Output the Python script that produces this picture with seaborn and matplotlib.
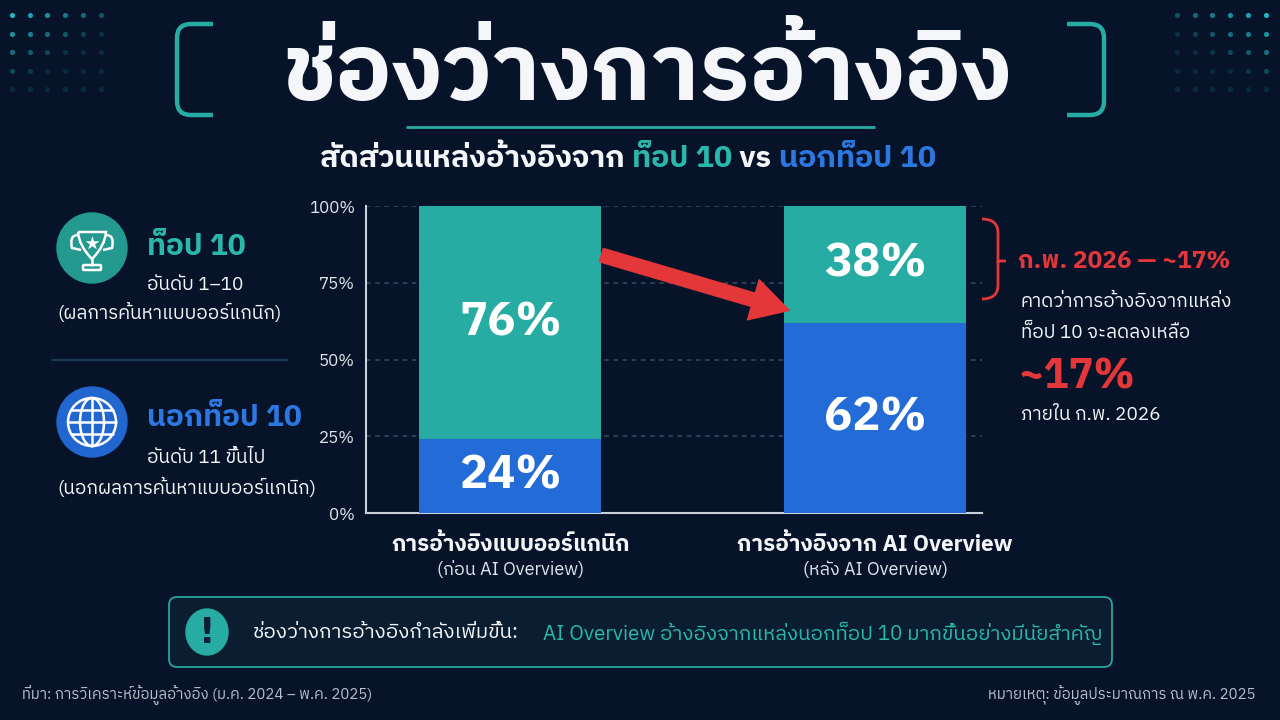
import numpy as np
import pandas as pd
import matplotlib
matplotlib.use("Agg")
import matplotlib.pyplot as plt
import seaborn as sns
from matplotlib import font_manager
from matplotlib.ft2font import FT2Font
from matplotlib.patches import FancyBboxPatch, Circle, Ellipse, PathPatch
from matplotlib.path import Path

# ---------------- data ----------------
categories = ["การอ้างอิงแบบออร์แกนิก", "การอ้างอิงจาก AI Overview"]
category_notes = ["(ก่อน AI Overview)", "(หลัง AI Overview)"]
top10_share = [76, 38]
outside_share = [24, 62]
y_ticks = [0, 25, 50, 75, 100]
y_tick_labels = ["0%", "25%", "50%", "75%", "100%"]
forecast_label = "~17%"

# ---------------- fonts ----------------
sns.set_theme(style="dark")
thai_fams = {}
for f in font_manager.fontManager.ttflist:
    try:
        if 0x0E01 in FT2Font(f.fname).get_charmap():
            thai_fams[f.name] = True
    except Exception:
        pass
def rank(n):
    n2 = n.lower()
    score = 0
    if "thai" in n2: score -= 10
    if "sans" in n2: score -= 5
    if "looped" in n2: score += 3
    if "ui" in n2: score += 1
    return score
thai_list = sorted(thai_fams.keys(), key=rank)
FAM = (thai_list[:1] if thai_list else []) + ["DejaVu Sans"]
plt.rcParams["font.family"] = FAM

BG = "#061329"
TEAL = "#27aca3"
TEAL_T = "#2ab8ad"
BLUE = "#236bd6"
BLUE_T = "#2d78e0"
RED = "#e3373a"
WHITE = "#f4f6f9"
GRAY = "#b9c1cc"

W, H = 1280, 720
fig = plt.figure(figsize=(12.8, 7.2), dpi=100, facecolor=BG)

# overlay in pixel coords
ov = fig.add_axes([0, 0, 1, 1], zorder=0)
ov.set_xlim(0, W)
ov.set_ylim(H, 0)
ov.axis("off")
ov.set_facecolor(BG)

def px_fs(px):
    return px * 0.72

# dot grids
for gx0, bright_right in [(12, False), (1177, True)]:
    for i in range(6):
        for j in range(5):
            x = gx0 + i * 17.7
            y = 15 + j * 18.6
            if bright_right:
                a = max(0.15, 1.0 - 0.22 * j - 0.12 * (5 - i))
            else:
                a = max(0.15, 1.0 - 0.22 * j - 0.12 * i)
            ov.scatter([x], [y], s=14, color="#22b5c2", alpha=a, linewidths=0, zorder=1)

# title brackets
def bracket(x_out, x_in, y0, y1, r, side):
    if side == "left":
        verts = [(x_in, y0), (x_out + r, y0), (x_out, y0), (x_out, y0 + r),
                 (x_out, y1 - r), (x_out, y1), (x_out + r, y1), (x_in, y1)]
    else:
        verts = [(x_in, y0), (x_out - r, y0), (x_out, y0), (x_out, y0 + r),
                 (x_out, y1 - r), (x_out, y1), (x_out - r, y1), (x_in, y1)]
    codes = [Path.MOVETO, Path.LINETO, Path.CURVE3, Path.CURVE3,
             Path.LINETO, Path.CURVE3, Path.CURVE3, Path.LINETO]
    ov.add_patch(PathPatch(Path(verts, codes), fill=False, ec=TEAL, lw=3.2,
                           capstyle="butt", zorder=2))
bracket(177, 213, 24, 115, 14, "left")
bracket(1104, 1067, 24, 115, 14, "right")

# title
ov.text(648, 75, "ช่องว่างการอ้างอิง", color=WHITE, fontsize=px_fs(93),
        fontweight="bold", ha="center", va="center", zorder=3)
ov.plot([406, 875], [127, 127], color=TEAL, lw=2, solid_capstyle="butt")

# subtitle (multi-color)
renderer = fig.canvas.get_renderer()
pieces = [("สัดส่วนแหล่งอ้างอิงจาก ", WHITE), ("ท็อป 10", TEAL_T), (" vs ", WHITE), ("นอกท็อป 10", BLUE_T)]
tmp = []
total_w = 0
for s, c in pieces:
    t = ov.text(0, 159, s, fontsize=px_fs(30.5), fontweight="bold", color=c, va="center", ha="left")
    bb = t.get_window_extent(renderer=renderer)
    tmp.append((t, bb.width))
    total_w += bb.width
x = 628 - total_w / 2
for t, w in tmp:
    t.set_x(x)
    x += w

# left legend
ov.add_patch(Circle((92, 248), 35, color="#23998f", zorder=2))
# trophy icon
cup = Path([(78, 232), (106, 232), (105, 246), (92, 259), (79, 246), (78, 232)],
           [Path.MOVETO, Path.LINETO, Path.CURVE3, Path.CURVE3, Path.CURVE3, Path.CURVE3])
ov.add_patch(PathPatch(cup, fill=False, ec="white", lw=1.8, zorder=3))
for sgn in (-1, 1):
    hx = 92 + sgn * 14
    h = Path([(hx, 235), (hx + sgn * 9, 235), (hx + sgn * 6, 248), (hx - sgn * 3, 250)],
             [Path.MOVETO, Path.CURVE3, Path.CURVE3, Path.LINETO])
    ov.add_patch(PathPatch(h, fill=False, ec="white", lw=1.8, zorder=3))
ov.plot([92, 92], [259, 265], color="white", lw=1.8, zorder=3)
ov.add_patch(FancyBboxPatch((83, 265), 18, 5, boxstyle="round,pad=0,rounding_size=1",
                            fill=False, ec="white", lw=1.8, zorder=3))
ov.scatter([92], [243], marker="*", s=110, color="white", zorder=4, linewidths=0)

ov.text(147, 247, "ท็อป 10", color=TEAL_T, fontsize=px_fs(30), fontweight="bold", va="center", ha="left")
ov.text(147, 285, "อันดับ 1–10", color=WHITE, fontsize=px_fs(19), va="center", ha="left")
ov.text(57, 313, "(ผลการค้นหาแบบออร์แกนิก)", color=WHITE, fontsize=px_fs(19), va="center", ha="left")
ov.plot([52, 287], [360, 360], color="#1d3a57", lw=1.5)

ov.add_patch(Circle((92, 422), 35, color="#2267cf", zorder=2))
# globe icon
ov.add_patch(Circle((92, 422), 24, fill=False, ec="white", lw=1.8, zorder=3))
ov.add_patch(Ellipse((92, 422), 24, 48, fill=False, ec="white", lw=1.8, zorder=3))
ov.plot([92, 92], [398, 446], color="white", lw=1.8, zorder=3)
ov.plot([68, 116], [422, 422], color="white", lw=1.8, zorder=3)
for dy in (-12, 12):
    hw = np.sqrt(24 ** 2 - dy ** 2)
    ov.plot([92 - hw, 92 + hw], [422 + dy, 422 + dy], color="white", lw=1.8, zorder=3)

ov.text(147, 418, "นอกท็อป 10", color=BLUE_T, fontsize=px_fs(30), fontweight="bold", va="center", ha="left")
ov.text(147, 458, "อันดับ 11 ขึ้นไป", color=WHITE, fontsize=px_fs(19), va="center", ha="left")
ov.text(57, 488, "(นอกผลการค้นหาแบบออร์แกนิก)", color=WHITE, fontsize=px_fs(19), va="center", ha="left")

# ---------------- chart ----------------
df = pd.DataFrame({"category": categories, "top10": top10_share, "outside": outside_share})
df["total"] = df["top10"] + df["outside"]

ax = fig.add_axes([366 / W, 1 - 513 / H, (982 - 366) / W, (513 - 206) / H], zorder=2)
ax.set_facecolor("none")
sns.barplot(data=df, x="category", y="total", color=TEAL, width=0.5, saturation=1,
            errorbar=None, ax=ax, zorder=2)
sns.barplot(data=df, x="category", y="outside", color=BLUE, width=0.5, saturation=1,
            errorbar=None, ax=ax, zorder=3)
for p in ax.patches:
    p.set_linewidth(0)
ax.set_xlim(-0.395, 1.293)
ax.set_ylim(0, 100)
ax.set_yticks(y_ticks)
ax.set_yticklabels(y_tick_labels)
ax.set_xticks([0, 1])
ax.set_xticklabels(["", ""])
ax.set_xlabel("")
ax.set_ylabel("")
ax.tick_params(axis="both", length=0, colors="#dfe5ec", labelsize=px_fs(17), pad=8)
ax.yaxis.grid(True, color="#3a4a60", lw=1.1, ls=(0, (3, 3)))
ax.xaxis.grid(False)
ax.set_axisbelow(True)
for s in ["top", "right"]:
    ax.spines[s].set_visible(False)
for s in ["left", "bottom"]:
    ax.spines[s].set_color("#c9d1db")
    ax.spines[s].set_linewidth(1.5)
    ax.spines[s].set_visible(True)

for i in range(len(categories)):
    o = outside_share[i]
    t = top10_share[i]
    ax.text(i, o / 2, f"{o}%", color="white", fontsize=px_fs(47), fontweight="bold",
            ha="center", va="center", zorder=5)
    ax.text(i, o + t / 2, f"{t}%", color="white", fontsize=px_fs(47), fontweight="bold",
            ha="center", va="center", zorder=5)
    ax.text(i, -0.10, categories[i], transform=ax.get_xaxis_transform(), color=WHITE,
            fontsize=px_fs(22.5), fontweight="bold", ha="center", va="center")
    ax.text(i, -0.185, category_notes[i], transform=ax.get_xaxis_transform(), color="#dfe5ec",
            fontsize=px_fs(18), ha="center", va="center")

ax.annotate("", xy=(0.765, 66), xytext=(0.25, 84),
            arrowprops=dict(arrowstyle="simple,head_length=1.35,head_width=1.5,tail_width=0.5",
                            color=RED, shrinkA=0, shrinkB=0, mutation_scale=20),
            annotation_clip=False, zorder=6)

# right annotation
br = Path([(982, 219), (998, 219), (998, 233), (998, 261), (1006, 261), (998, 261),
           (998, 285), (998, 299), (982, 299)],
          [Path.MOVETO, Path.CURVE3, Path.CURVE3, Path.LINETO, Path.LINETO, Path.MOVETO,
           Path.LINETO, Path.CURVE3, Path.CURVE3])
ov.add_patch(PathPatch(br, fill=False, ec=RED, lw=2, zorder=5))
ov.text(1018, 261, "ก.พ. 2026 — ~17%", color=RED, fontsize=px_fs(24.5), fontweight="bold",
        va="center", ha="left")
ov.text(1021, 302, "คาดว่าการอ้างอิงจากแหล่ง", color=WHITE, fontsize=px_fs(19), va="center", ha="left")
ov.text(1021, 333, "ท็อป 10 จะลดลงเหลือ", color=WHITE, fontsize=px_fs(19), va="center", ha="left")
ov.text(1019, 377, forecast_label, color=RED, fontsize=px_fs(42), fontweight="bold", va="center", ha="left")
ov.text(1021, 415, "ภายใน ก.พ. 2026", color=WHITE, fontsize=px_fs(19), va="center", ha="left")

# bottom callout
ov.add_patch(FancyBboxPatch((169, 597), 943, 70, boxstyle="round,pad=0,rounding_size=8",
                            fc="#0a1d31", ec="#23a79c", lw=1.3, zorder=2))
ov.add_patch(Ellipse((207, 632), 42, 46, color=TEAL, zorder=3))
ov.text(207, 633, "!", color="#082033", fontsize=px_fs(36), fontweight="bold",
        ha="center", va="center", zorder=4, family="DejaVu Sans")
ov.text(253, 633, "ช่องว่างการอ้างอิงกำลังเพิ่มขึ้น:", color=WHITE, fontsize=px_fs(20.5),
        va="center", ha="left", zorder=4)
ov.text(543, 633, "AI Overview อ้างอิงจากแหล่งนอกท็อป 10 มากขึ้นอย่างมีนัยสำคัญ", color=TEAL_T,
        fontsize=px_fs(20.5), va="center", ha="left", zorder=4)

# footer
ov.text(22, 695, "ที่มา: การวิเคราะห์ข้อมูลอ้างอิง (ม.ค. 2024 – พ.ค. 2025)", color=GRAY,
        fontsize=px_fs(15), va="center", ha="left")
ov.text(1256, 695, "หมายเหตุ: ข้อมูลประมาณการ ณ พ.ค. 2025", color=GRAY,
        fontsize=px_fs(15), va="center", ha="right")

fig.savefig("out.png", dpi=100, facecolor=BG)
